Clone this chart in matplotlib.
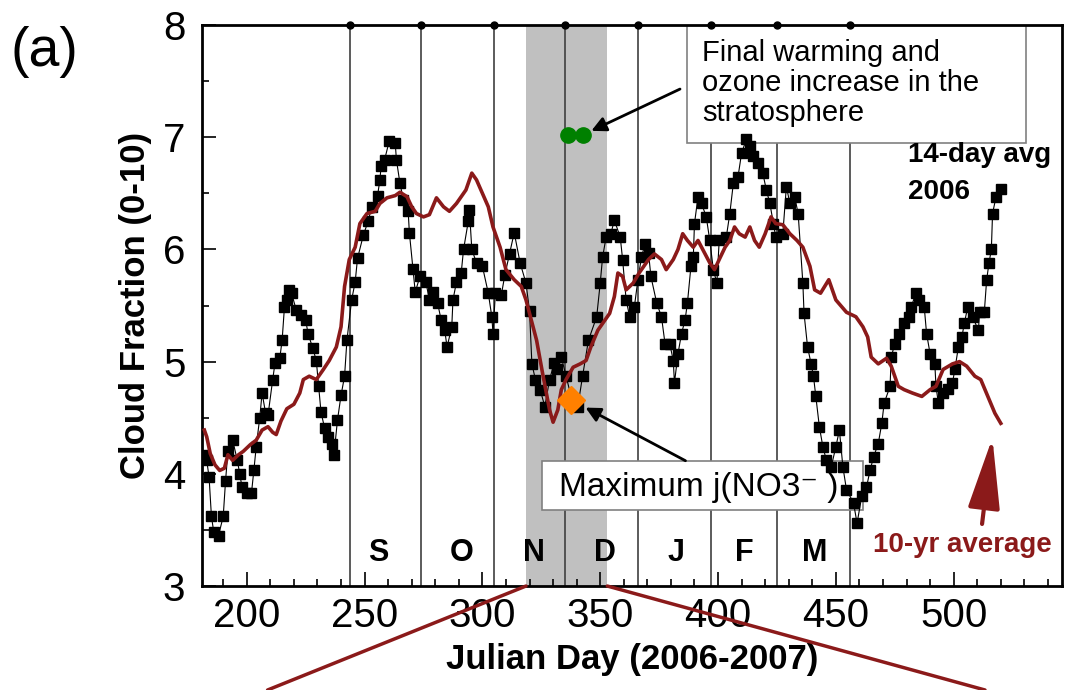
import matplotlib
matplotlib.use("Agg")
import matplotlib.pyplot as plt
from matplotlib.patches import Rectangle, ConnectionPatch, FancyArrowPatch

plt.rcParams['font.family'] = ['Liberation Sans', 'DejaVu Sans']

# 14-day running average of cloud fraction, 2006-2007 (black squares)
avg14_day = [182, 183, 184, 185, 186, 188, 190, 191, 192, 194, 196, 197, 198, 200, 202, 203, 204, 205.5,
             206.5, 208, 209, 211, 212, 214, 215, 216, 217, 218, 219, 221, 223, 225, 226, 228, 229.5,
             230.5, 231.5, 233, 234.5, 236, 237, 238.5, 240, 241.5, 242.5, 244.5, 246, 247, 249.5,
             251.5, 253, 255.5, 256.5, 257, 258.5, 260.5, 263, 263.5, 265, 266.5, 268.5, 269, 270.5,
             271.5, 273.5, 276, 277.5, 279, 281, 282.5, 284, 285, 287, 287.5, 289, 291, 292, 294,
             294.5, 295.5, 297.5, 300, 302.5, 304, 304.5, 305.5, 308, 309.5, 311.5, 313.5, 316,
             318.5, 320, 321, 322.5, 324.5, 326.5, 328.5, 330.5, 331.5, 333.5, 335.5, 338, 340.5,
             342.5, 345, 348.5, 350, 351, 352.5, 354.5, 356, 358.5, 359.5, 361, 362.5, 364.5, 366,
             367.5, 369, 370.5, 371.5, 374, 376, 377.5, 379.5, 381, 381.5, 383, 384.5, 386, 387,
             388.5, 389.5, 390, 391.5, 393, 395, 396.5, 398, 399.5, 400.5, 403.5, 405, 406.5, 408.5,
             410, 412, 413.5, 415, 417, 419, 420.5, 422, 423.5, 424.5, 427.5, 429, 430.5, 432.5,
             434, 436, 436.5, 438, 439.5, 440.5, 441.5, 443, 444.5, 446, 448, 450, 451.5, 453,
             454.5, 457.5, 459, 461, 463, 464.5, 466, 468, 469.5, 470.5, 473, 473.5, 475, 477, 479,
             481, 482, 484, 485.5, 487.5, 488.5, 490, 492, 492.5, 493.5, 495.5, 497.5, 499.5, 500.5,
             502, 503.5, 504.5, 506, 508, 510.5, 511, 513, 514, 515, 516, 516.5, 518, 520]
avg14_val = [4.17, 4.12, 3.97, 3.62, 3.48, 3.45, 3.62, 3.94, 4.2, 4.3, 4.12, 4.0, 3.88, 3.83, 3.83, 4.03,
             4.24, 4.5, 4.72, 4.54, 4.52, 4.84, 4.99, 5.03, 5.19, 5.49, 5.55, 5.64, 5.61, 5.46, 5.42,
             5.37, 5.25, 5.12, 5.01, 4.78, 4.55, 4.41, 4.33, 4.27, 4.17, 4.48, 4.7, 4.87, 5.19, 5.55,
             5.71, 5.92, 6.13, 6.25, 6.38, 6.48, 6.62, 6.74, 6.8, 6.97, 6.95, 6.8, 6.59, 6.44, 6.34,
             6.15, 5.83, 5.62, 5.76, 5.71, 5.55, 5.62, 5.52, 5.37, 5.28, 5.13, 5.31, 5.55, 5.71,
             5.79, 6.0, 6.25, 6.35, 6.0, 5.88, 5.85, 5.61, 5.4, 5.25, 5.61, 5.59, 5.77, 5.96, 6.15,
             5.88, 5.7, 5.45, 4.98, 4.84, 4.75, 4.6, 4.84, 4.99, 4.93, 5.04, 4.87, 4.66, 4.6, 4.87,
             5.19, 5.4, 5.7, 5.93, 6.11, 6.14, 6.26, 6.11, 5.91, 5.55, 5.4, 5.49, 5.73, 5.93, 6.05,
             5.97, 5.76, 5.52, 5.4, 5.16, 5.16, 5.01, 4.81, 5.07, 5.25, 5.37, 5.52, 5.85, 5.93, 6.23,
             6.47, 6.41, 6.29, 6.08, 5.82, 5.7, 6.08, 6.11, 6.32, 6.59, 6.65, 6.86, 6.98, 6.92, 6.83,
             6.77, 6.68, 6.53, 6.41, 6.23, 6.11, 6.14, 6.56, 6.41, 6.47, 6.32, 5.7, 5.43, 5.13, 4.98,
             4.87, 4.69, 4.42, 4.24, 4.12, 4.06, 4.24, 4.39, 4.06, 3.86, 3.74, 3.56, 3.8, 3.88, 4.03,
             4.15, 4.27, 4.45, 4.63, 4.78, 5.04, 5.16, 5.25, 5.34, 5.4, 5.49, 5.61, 5.55, 5.49, 5.25,
             5.07, 4.98, 4.78, 4.63, 4.72, 4.76, 4.81, 4.93, 5.13, 5.22, 5.34, 5.49, 5.4, 5.28, 5.44,
             5.44, 5.73, 5.88, 6.0, 6.32, 6.47, 6.54]

# 10-year average (dark red line)
avg10_day = [182, 183, 184.5, 186.5, 188.5, 190.5, 192, 194, 196.5, 198.5, 201.5, 204, 206.5, 209, 211,
             212.5, 214.5, 217, 220, 222.5, 224, 226.5, 229.5, 232.5, 235, 238, 240, 241.5, 243.5,
             246, 248, 251, 254.5, 256.5, 259.5, 263, 265, 268, 270, 272, 275, 277.5, 280.5, 283.5,
             286, 289, 293, 295.5, 297.5, 300, 302.5, 304.5, 307.5, 310, 313.5, 316.5, 318.5, 320,
             323, 325.5, 328.5, 330, 332, 333.5, 335.5, 338.5, 341.5, 344, 346, 349, 352, 354, 356,
             357.5, 359.5, 361, 364, 366.5, 370.5, 373, 376, 378, 381, 383, 385, 387, 389.5, 391.5,
             393.5, 396.5, 398.5, 400.5, 403, 405, 407, 409, 411.5, 413.5, 415.5, 417.5, 420, 422.5,
             424.5, 427.5, 430.5, 433.5, 436, 439, 441, 443.5, 447, 450, 454.5, 458.5, 461.5, 463.5,
             465, 468, 471.5, 473.5, 476.5, 479, 482.5, 486.5, 490, 492.5, 495.5, 499.5, 502.5,
             505.5, 509, 511.5, 514.5, 517.5, 520]
avg10_val = [4.39, 4.33, 4.18, 4.08, 4.03, 4.05, 4.17, 4.12, 4.17, 4.2, 4.26, 4.3, 4.39, 4.42, 4.37,
             4.35, 4.47, 4.58, 4.62, 4.72, 4.84, 4.87, 4.84, 4.93, 5.01, 5.13, 5.31, 5.67, 5.91,
             6.02, 6.23, 6.32, 6.34, 6.41, 6.46, 6.48, 6.51, 6.47, 6.38, 6.32, 6.29, 6.31, 6.46,
             6.38, 6.34, 6.41, 6.53, 6.68, 6.62, 6.5, 6.38, 6.2, 6.02, 5.82, 5.73, 5.67, 5.55, 5.43,
             5.19, 4.9, 4.57, 4.46, 4.57, 4.75, 4.84, 4.95, 4.98, 5.01, 5.13, 5.28, 5.37, 5.43, 5.58,
             5.79, 5.76, 5.64, 5.7, 5.79, 5.91, 5.96, 5.91, 5.82, 5.91, 6.0, 6.14, 6.08, 6.02, 6.08,
             6.0, 5.88, 5.82, 5.91, 6.02, 6.08, 6.2, 6.14, 6.11, 6.2, 6.08, 6.02, 6.14, 6.29, 6.23,
             6.22, 6.14, 6.08, 6.02, 5.85, 5.64, 5.61, 5.73, 5.55, 5.44, 5.4, 5.31, 5.22, 5.04, 4.98,
             5.03, 4.96, 4.78, 4.75, 4.72, 4.69, 4.75, 4.78, 4.93, 4.98, 5.0, 4.96, 4.87, 4.84, 4.69,
             4.54, 4.45]

month_start = [244, 274, 305, 335, 366, 397, 425, 456]
month_labels = ['S', 'O', 'N', 'D', 'J', 'F', 'M']
month_label_day = [256, 291, 322, 352, 382, 411, 441]
shade_start, shade_end = 318.5, 353
warming_day = [336.5, 342.5]
warming_val = [7.02, 7.02]
max_j_day = 337.5
max_j_val = 4.66

dark_red = '#8b1a1a'

fig = plt.figure(figsize=(10.66, 6.9), dpi=100)
ax = fig.add_axes([0.1895, 0.1507, 0.8068, 0.813])

ax.axvspan(shade_start, shade_end, color='#c0c0c0', lw=0, zorder=0)
ax.vlines(month_start, 3, 8, color='#404040', lw=1.2, zorder=1)
ax.plot(month_start, [8] * len(month_start), 'o', color='black', ms=5, clip_on=False, zorder=6)

# boxes behind the data
ax.add_patch(Rectangle((0.564, 0.79), 0.394, 0.21, transform=ax.transAxes,
                       facecolor='white', edgecolor='#808080', lw=1.2, zorder=2))
ax.add_patch(Rectangle((0.395, 0.135), 0.374, 0.087, transform=ax.transAxes,
                       facecolor='white', edgecolor='#808080', lw=1.2, zorder=2))

ax.plot(avg14_day, avg14_val, '-', color='black', lw=0.8, marker='s', ms=7, zorder=3)
ax.plot(avg10_day, avg10_val, '-', color=dark_red, lw=2.6, zorder=4)
ax.plot(max_j_day, max_j_val, 'D', color='#ff8000', ms=14, zorder=5)
ax.plot(warming_day, warming_val, 'o', color='#008000', ms=11, zorder=5)

for d, lab in zip(month_label_day, month_labels):
    ax.text(d, 3.29, lab, fontsize=22, fontweight='bold', ha='center', va='center', zorder=6)

ax.text(0.5813, 0.897, 'Final warming and\nozone increase in the\nstratosphere',
        transform=ax.transAxes, fontsize=21, ha='left', va='center', linespacing=1.1, zorder=6)
ax.text(0.578, 0.176, 'Maximum j(NO3⁻ )', transform=ax.transAxes, fontsize=24,
        ha='center', va='center', zorder=6)
ax.text(0.821, 0.768, '14-day avg', transform=ax.transAxes, fontsize=20, fontweight='bold',
        ha='left', va='center', zorder=6)
ax.text(0.821, 0.702, '2006', transform=ax.transAxes, fontsize=20, fontweight='bold',
        ha='left', va='center', zorder=6)
ax.text(0.884, 0.073, '10-yr average', transform=ax.transAxes, fontsize=20, fontweight='bold',
        color=dark_red, ha='center', va='center', zorder=6)

ax.annotate('', xy=(warming_day[1], warming_val[1]), xytext=(0.5587, 0.888),
            textcoords='axes fraction',
            arrowprops=dict(arrowstyle='-|>', color='black', lw=2, mutation_scale=22, shrinkB=7),
            zorder=6)
ax.annotate('', xy=(max_j_day, max_j_val), xytext=(0.565, 0.221), textcoords='axes fraction',
            arrowprops=dict(arrowstyle='-|>', color='black', lw=2, mutation_scale=22, shrinkB=12),
            zorder=6)
ax.add_patch(FancyArrowPatch((0.9066, 0.1057), (0.9194, 0.269), transform=ax.transAxes,
                             arrowstyle='-|>,head_length=2.0,head_width=0.45', mutation_scale=22,
                             color=dark_red, lw=3, zorder=6))

ax.set_xlim(181, 546)
ax.set_ylim(3, 8)
ax.set_xticks(range(200, 501, 50))
ax.set_xticks(range(190, 546, 10), minor=True)
ax.set_yticks(range(3, 9))
ax.set_yticks([3.5, 4.5, 5.5, 6.5, 7.5], minor=True)
ax.tick_params(which='both', direction='in', labelsize=29, width=1.2)
ax.tick_params(which='major', length=10)
ax.tick_params(which='minor', length=5)
ax.tick_params(axis='x', pad=8)
ax.tick_params(axis='y', pad=12)
for s in ax.spines.values():
    s.set_linewidth(2)

ax.set_xlabel('Julian Day (2006-2007)', fontsize=25, fontweight='bold', labelpad=6)
ax.set_ylabel('Cloud Fraction (0-10)', fontsize=25, fontweight='bold', labelpad=8)

fig.text(0.042, 0.925, '(a)', fontsize=40, ha='center', va='center')

# zoom connector lines from the shaded band to the bottom of the figure
for d, fx in [(shade_start, 0.251), (shade_end, 0.924)]:
    con = ConnectionPatch(xyA=(d, 3), coordsA='data', axesA=ax,
                          xyB=(fx, 0.0), coordsB='figure fraction',
                          color=dark_red, lw=2.5, zorder=10)
    fig.add_artist(con)

fig.savefig('out.png', dpi=100)
